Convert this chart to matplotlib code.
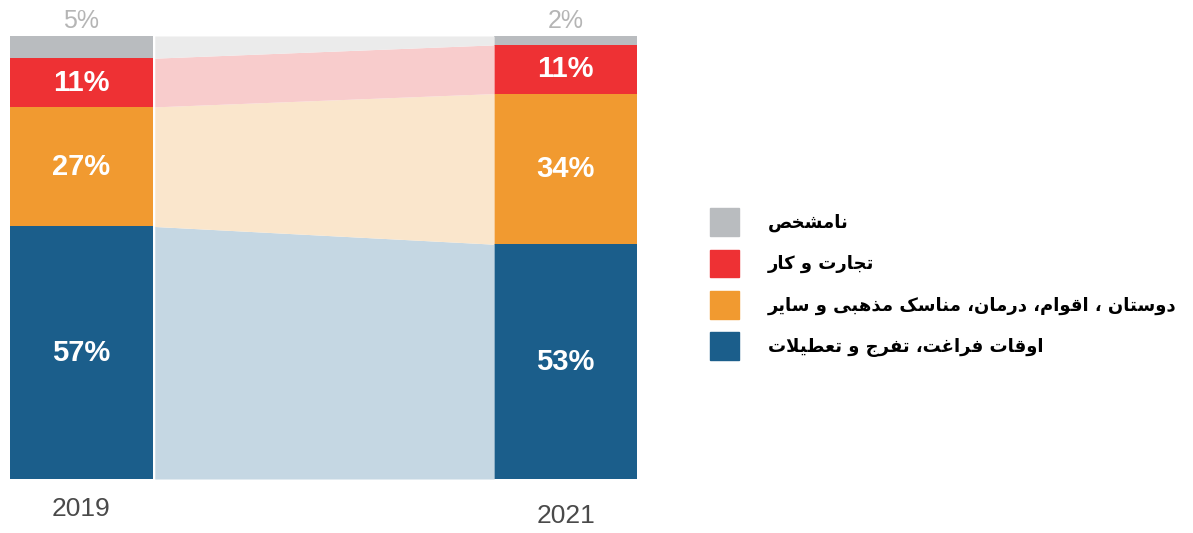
import matplotlib
matplotlib.use("Agg")
import matplotlib.pyplot as plt
import matplotlib.patches as mpatches
import numpy as np

# data (percent, bottom -> top)
years = ["2019", "2021"]
leisure = [57, 53]
friends = [27, 34]
business = [11, 11]
unknown = [5, 2]

labels_fa = [
    "اوقات فراغت، تفرج و تعطیلات",
    "دوستان ، اقوام، درمان، مناسک مذهبی و سایر",
    "تجارت و کار",
    "نامشخص",
]

COLORS = ["#1b5e8b", "#f19a30", "#ee3134", "#b9bcbf"]
LIGHT = ["#c5d7e3", "#fae6cc", "#f8cccc", "#ebebeb"]

# minimal Persian shaping: (isolated, final, initial, medial)
FORMS = {
    'ا': ('\uFE8D', '\uFE8E', None, None),
    'ب': ('\uFE8F', '\uFE90', '\uFE91', '\uFE92'),
    'ت': ('\uFE95', '\uFE96', '\uFE97', '\uFE98'),
    'ج': ('\uFE9D', '\uFE9E', '\uFE9F', '\uFEA0'),
    'خ': ('\uFEA5', '\uFEA6', '\uFEA7', '\uFEA8'),
    'د': ('\uFEA9', '\uFEAA', None, None),
    'ذ': ('\uFEAB', '\uFEAC', None, None),
    'ر': ('\uFEAD', '\uFEAE', None, None),
    'س': ('\uFEB1', '\uFEB2', '\uFEB3', '\uFEB4'),
    'ش': ('\uFEB5', '\uFEB6', '\uFEB7', '\uFEB8'),
    'ص': ('\uFEB9', '\uFEBA', '\uFEBB', '\uFEBC'),
    'ط': ('\uFEC1', '\uFEC2', '\uFEC3', '\uFEC4'),
    'ع': ('\uFEC9', '\uFECA', '\uFECB', '\uFECC'),
    'غ': ('\uFECD', '\uFECE', '\uFECF', '\uFED0'),
    'ف': ('\uFED1', '\uFED2', '\uFED3', '\uFED4'),
    'ق': ('\uFED5', '\uFED6', '\uFED7', '\uFED8'),
    'ل': ('\uFEDD', '\uFEDE', '\uFEDF', '\uFEE0'),
    'م': ('\uFEE1', '\uFEE2', '\uFEE3', '\uFEE4'),
    'ن': ('\uFEE5', '\uFEE6', '\uFEE7', '\uFEE8'),
    'ه': ('\uFEE9', '\uFEEA', '\uFEEB', '\uFEEC'),
    'و': ('\uFEED', '\uFEEE', None, None),
    'ک': ('\uFB8E', '\uFB8F', '\uFB90', '\uFB91'),
    'ی': ('\uFBFC', '\uFBFD', '\uFBFE', '\uFBFF'),
}


def joins_fwd(c):
    return c in FORMS and FORMS[c][2] is not None


def shape(text):
    out = []
    i = 0
    n = len(text)
    while i < n:
        c = text[i]
        prev = text[i - 1] if i > 0 else ''
        if c not in FORMS:
            out.append(c)
            i += 1
            continue
        pj = joins_fwd(prev)
        if c == 'ل' and i + 1 < n and text[i + 1] == 'ا':
            out.append('\uFEFC' if pj else '\uFEFB')
            i += 2
            continue
        nxt = text[i + 1] if i + 1 < n else ''
        nj = joins_fwd(c) and nxt in FORMS
        iso, fin, ini, med = FORMS[c]
        if pj and nj:
            g = med
        elif pj:
            g = fin
        elif nj:
            g = ini
        else:
            g = iso
        out.append(g)
        i += 1
    return ''.join(reversed(out))


fig = plt.figure(figsize=(11.93, 5.33), dpi=100)
ax = fig.add_axes([10 / 1193, 54 / 533, 627 / 1193, 443 / 533])

series = [leisure, friends, business, unknown]
x = np.arange(len(years))
w = 0.295
gap = 0.004

bottom = np.zeros(len(years))
for vals, col, lcol in zip(series, COLORS, LIGHT):
    vals = np.array(vals, dtype=float)
    ax.bar(x, vals, width=w, bottom=bottom, color=col, linewidth=0)
    xs = [x[0] + w / 2 + gap, x[1] - w / 2]
    ax.fill_between(xs, bottom, bottom + vals, color=lcol, linewidth=0)
    bottom = bottom + vals

# labels inside the bars
bottom = np.zeros(len(years))
for k, vals in enumerate(series):
    for i in range(len(years)):
        v = vals[i]
        if k < 3:
            ax.text(x[i], bottom[i] + v / 2, f"{v}%", ha='center', va='center',
                    color='white', fontsize=21, fontweight='bold',
                    family='Liberation Sans')
        else:
            ax.text(x[i], bottom[i] + v + 0.6, f"{v}%", ha='center', va='bottom',
                    color='#b5b5b5', fontsize=18, family='Liberation Sans')
    bottom = bottom + np.array(vals)

year_offsets = [-6.8, -8.4]
for i, yr in enumerate(years):
    ax.text(x[i], year_offsets[i], yr, ha='center', va='center',
            color='#4a4a4a', fontsize=19, family='Liberation Sans')

ax.set_xlim(-w / 2, 1 + w / 2)
ax.set_ylim(0, 100)
ax.axis('off')

handles = [mpatches.Patch(color=c) for c in COLORS[::-1]]
texts = [shape(t) for t in labels_fa[::-1]]
fig.legend(handles, texts, loc='upper left', bbox_to_anchor=(694 / 1193, 1 - 192 / 533),
           frameon=False, prop={'family': 'DejaVu Sans', 'weight': 'bold', 'size': 13},
           handlelength=1.6, handleheight=2.0, handletextpad=1.6, labelspacing=0.74)

fig.savefig("out.png", dpi=100, facecolor='white')
